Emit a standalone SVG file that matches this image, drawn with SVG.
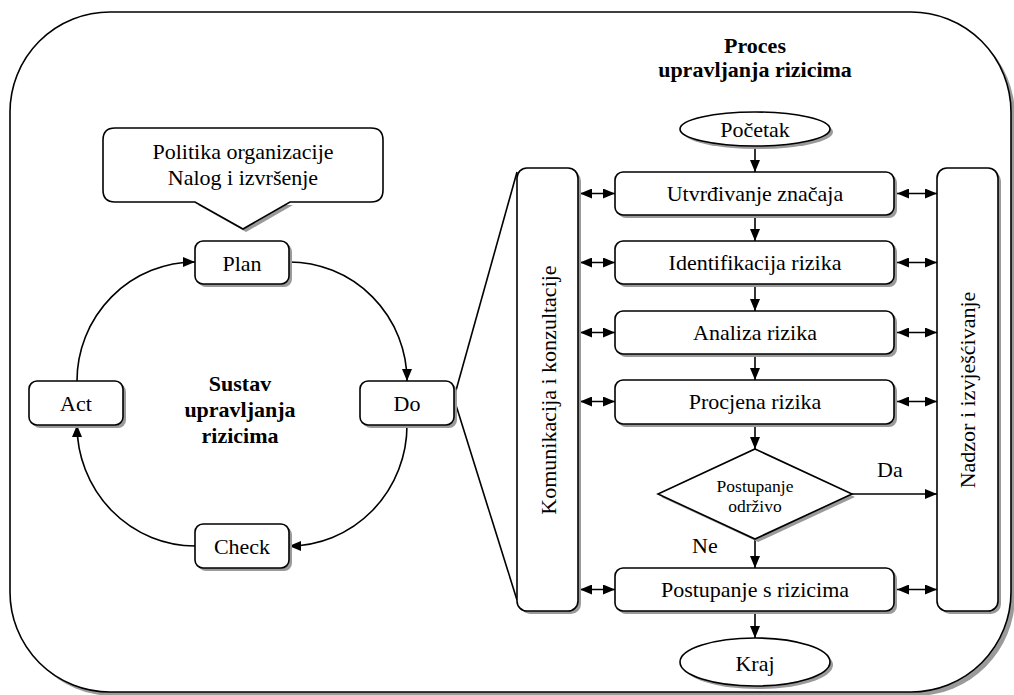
<svg xmlns="http://www.w3.org/2000/svg" width="1014" height="695" viewBox="0 0 1014 695">
<defs>
<marker id="ah" viewBox="0 0 12 10" refX="12" refY="5" markerWidth="12" markerHeight="10" markerUnits="userSpaceOnUse" orient="auto-start-reverse">
<path d="M0,0 L12,5 L0,10 Z" fill="#000"/>
</marker>
<style>
.b{fill:#fff;stroke:#000;stroke-width:1.6}
.s{fill:#9a9a9a;stroke:none}
.l{fill:none;stroke:#000;stroke-width:1.6}
.t{font-family:'Liberation Serif','Tinos','Times New Roman','DejaVu Serif','Noto Serif',serif;font-size:22px;fill:#000;text-anchor:middle}
.bo{font-weight:bold}
.sm{font-size:17.5px}
.st{text-anchor:start}
</style>
</defs>
<rect width="1014" height="695" fill="#fff"/>
<g id="frame">
<rect class="s" x="14" y="16" width="1001" height="680" rx="100"/>
<rect class="b" x="10" y="12" width="1001" height="680" rx="100"/>
</g>
<g id="callout">
<polygon class="s" points="198,205 293,205 246,232"/>
<path class="b" d="M115,128 H371 Q383,128 383,140 V190 Q383,202 371,202 H290 L243,229 L195,202 H115 Q103,202 103,190 V140 Q103,128 115,128 Z"/>
<text class="t" x="243" y="159">Politika organizacije</text>
<text class="t" x="243" y="185">Nalog i izvršenje</text>
</g>
<g id="title-left">
<text class="t bo" x="240" y="391">Sustav</text>
<text class="t bo" x="240" y="417">upravljanja</text>
<text class="t bo" x="240" y="443">rizicima</text>
</g>
<g id="title-right">
<text class="t bo" x="755" y="53">Proces</text>
<text class="t bo" x="755" y="77">upravljanja rizicima</text>
</g>
<g id="connectors">
<path class="l" d="M289,262 A118,119 0 0 1 407,381" marker-end="url(#ah)"/>
<path class="l" d="M407,425 A118,121 0 0 1 289,546" marker-end="url(#ah)"/>
<path class="l" d="M195,546 A118,121 0 0 1 77,425" marker-end="url(#ah)"/>
<path class="l" d="M77,381 A118,119 0 0 1 195,262" marker-end="url(#ah)"/>
<path class="l" d="M455,394 L517,172"/>
<path class="l" d="M455,402 L517,600"/>
<path class="l" d="M755,146 V172" marker-end="url(#ah)"/>
<path class="l" d="M755,215 V241" marker-end="url(#ah)"/>
<path class="l" d="M755,284 V311" marker-end="url(#ah)"/>
<path class="l" d="M755,354 V380" marker-end="url(#ah)"/>
<path class="l" d="M755,424 V449" marker-end="url(#ah)"/>
<path class="l" d="M755,539 V568" marker-end="url(#ah)"/>
<path class="l" d="M755,611 V638" marker-end="url(#ah)"/>
<path class="l" d="M852,494 H937" marker-end="url(#ah)"/>
<path class="l" d="M580,193.5 H615" marker-start="url(#ah)" marker-end="url(#ah)"/>
<path class="l" d="M580,262.5 H615" marker-start="url(#ah)" marker-end="url(#ah)"/>
<path class="l" d="M580,332.5 H615" marker-start="url(#ah)" marker-end="url(#ah)"/>
<path class="l" d="M580,401.5 H615" marker-start="url(#ah)" marker-end="url(#ah)"/>
<path class="l" d="M580,589.5 H615" marker-start="url(#ah)" marker-end="url(#ah)"/>
<path class="l" d="M897,193.5 H937" marker-start="url(#ah)" marker-end="url(#ah)"/>
<path class="l" d="M897,262.5 H937" marker-start="url(#ah)" marker-end="url(#ah)"/>
<path class="l" d="M897,332.5 H937" marker-start="url(#ah)" marker-end="url(#ah)"/>
<path class="l" d="M897,401.5 H937" marker-start="url(#ah)" marker-end="url(#ah)"/>
<path class="l" d="M897,589.5 H937" marker-start="url(#ah)" marker-end="url(#ah)"/>
</g>
<g id="plan">
<rect class="s" x="198" y="244" width="94" height="43" rx="8"/>
<rect class="b" x="195" y="241" width="94" height="43" rx="8"/>
<text class="t" x="242" y="271">Plan</text>
</g>
<g id="do">
<rect class="s" x="363" y="384" width="94" height="44" rx="8"/>
<rect class="b" x="360" y="381" width="94" height="44" rx="8"/>
<text class="t" x="407" y="411">Do</text>
</g>
<g id="act">
<rect class="s" x="32" y="384" width="94" height="44" rx="8"/>
<rect class="b" x="29" y="381" width="94" height="44" rx="8"/>
<text class="t" x="76" y="411">Act</text>
</g>
<g id="check">
<rect class="s" x="198" y="527" width="94" height="44" rx="8"/>
<rect class="b" x="195" y="524" width="94" height="44" rx="8"/>
<text class="t" x="242" y="554">Check</text>
</g>
<g id="komunikacija">
<rect class="s" x="520" y="171" width="61" height="443" rx="10"/>
<rect class="b" x="517" y="168" width="61" height="443" rx="10"/>
<text class="t" transform="translate(556,390) rotate(-90)">Komunikacija i konzultacije</text>
</g>
<g id="nadzor">
<rect class="s" x="940" y="171" width="61" height="443" rx="10"/>
<rect class="b" x="937" y="168" width="61" height="443" rx="10"/>
<text class="t" transform="translate(975,390) rotate(-90)">Nadzor i izvješćivanje</text>
</g>
<g id="pocetak">
<ellipse class="s" cx="758" cy="132" rx="75" ry="17"/>
<ellipse class="b" cx="755" cy="129" rx="75" ry="17"/>
<text class="t" x="755" y="137">Početak</text>
</g>
<g id="utvrdivanje">
<rect class="s" x="618" y="175" width="279" height="43" rx="8"/>
<rect class="b" x="615" y="172" width="279" height="43" rx="8"/>
<text class="t" x="755" y="201">Utvrđivanje značaja</text>
</g>
<g id="identifikacija">
<rect class="s" x="618" y="244" width="279" height="43" rx="8"/>
<rect class="b" x="615" y="241" width="279" height="43" rx="8"/>
<text class="t" x="755" y="270">Identifikacija rizika</text>
</g>
<g id="analiza">
<rect class="s" x="618" y="314" width="279" height="43" rx="8"/>
<rect class="b" x="615" y="311" width="279" height="43" rx="8"/>
<text class="t" x="755" y="340">Analiza rizika</text>
</g>
<g id="procjena">
<rect class="s" x="618" y="383" width="279" height="44" rx="8"/>
<rect class="b" x="615" y="380" width="279" height="44" rx="8"/>
<text class="t" x="755" y="409">Procjena rizika</text>
</g>
<g id="odluka">
<polygon class="s" points="758,452 855,497 758,542 661,497"/>
<polygon class="b" points="755,449 852,494 755,539 658,494"/>
<text class="t sm" x="755" y="492">Postupanje</text>
<text class="t sm" x="755" y="512">održivo</text>
<text class="t st" x="877" y="477">Da</text>
<text class="t st" x="692" y="553">Ne</text>
</g>
<g id="postupanje">
<rect class="s" x="618" y="571" width="279" height="43" rx="8"/>
<rect class="b" x="615" y="568" width="279" height="43" rx="8"/>
<text class="t" x="755" y="597">Postupanje s rizicima</text>
</g>
<g id="kraj">
<ellipse class="s" cx="758" cy="665" rx="75" ry="24"/>
<ellipse class="b" cx="755" cy="662" rx="75" ry="24"/>
<text class="t" x="755" y="671">Kraj</text>
</g>
</svg>
